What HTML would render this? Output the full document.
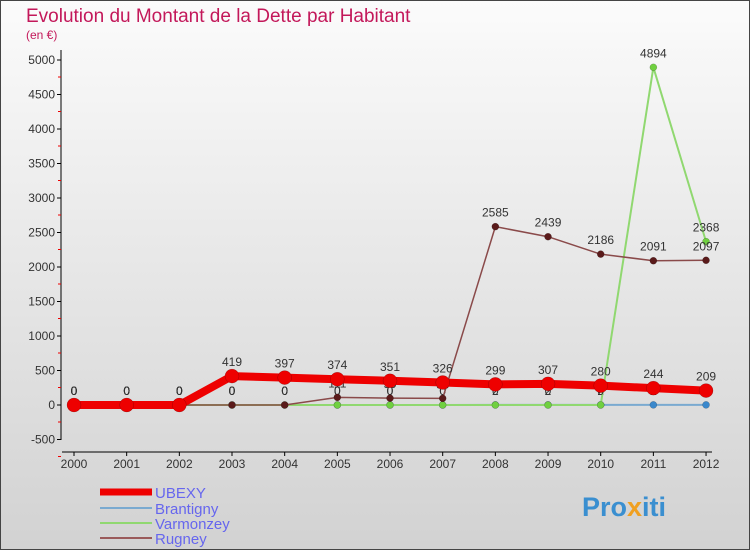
<!DOCTYPE html>
<html><head><meta charset="utf-8"><style>
body{margin:0;width:750px;height:550px;overflow:hidden;font-family:"Liberation Sans",sans-serif}
#wrap{position:relative;width:748px;height:548px;border:1px solid #444;background:linear-gradient(#fbfbfb,#d2d2d2)}
</style></head><body>
<div id="wrap">
<svg id="chart" width="750" height="550" style="position:absolute;left:-1px;top:-1px">
<text x="26" y="22" font-size="19" fill="#c3185a">Evolution du Montant de la Dette par Habitant</text>
<text x="26" y="39" font-size="12" fill="#c3185a">(en €)</text>
<g id="axes"></g><g id="series"></g>
<g>
<line x1="100" y1="492" x2="152" y2="492" stroke="#e00" stroke-width="7"/>
<text x="155" y="498" font-size="15" fill="#6666ee">UBEXY</text>
<line x1="100" y1="508" x2="152" y2="508" stroke="#7aaad0" stroke-width="2"/>
<text x="155" y="514" font-size="15" fill="#6666ee">Brantigny</text>
<line x1="100" y1="523" x2="152" y2="523" stroke="#90d870" stroke-width="2"/>
<text x="155" y="529" font-size="15" fill="#6666ee">Varmonzey</text>
<line x1="100" y1="538" x2="152" y2="538" stroke="#9a5a5a" stroke-width="2"/>
<text x="155" y="544" font-size="15" fill="#6666ee">Rugney</text>
</g>
<text x="582" y="516" font-size="27" font-weight="bold" fill="#3a8fd0">Pro<tspan fill="#f0a020">x</tspan>iti</text>
</svg></div>
<script>
const years=[2000,2001,2002,2003,2004,2005,2006,2007,2008,2009,2010,2011,2012];
const yTicks=[-500,0,500,1000,1500,2000,2500,3000,3500,4000,4500,5000];
const ubexy=[0,0,0,419,397,374,351,326,299,307,280,244,209];
const brantigny=[0,0,0,0,0,0,0,0,2,2,2,2,2];
const varmonzey=[0,0,0,0,0,0,0,0,0,0,0,4894,2368];
const rugney=[0,0,0,0,0,111,99,96,2585,2439,2186,2091,2097];
const NS="http://www.w3.org/2000/svg";
const xS=i=>74+i*52.67, yS=v=>405-v*0.069;
function mk(t,a,p){const e=document.createElementNS(NS,t);for(const k in a)e.setAttribute(k,a[k]);p.appendChild(e);return e;}
const ax=document.getElementById('axes'),sg=document.getElementById('series');
let yl=mk('line',{x1:61,y1:50,x2:61,y2:440,stroke:'#000'},ax);


let xl=mk('line',{x1:62,y1:452,x2:712,y2:452,stroke:'#000'},ax);


yTicks.forEach(v=>{const y=yS(v);
mk('line',{x1:57,y1:y,x2:61,y2:y,stroke:'#000'},ax);
mk('line',{x1:58,y1:y+17,x2:61,y2:y+17,stroke:'#e00'},ax);
const t=mk('text',{x:55,y:y+4,'font-size':12,'text-anchor':'end',fill:'#333'},ax);t.textContent=v;

});
years.forEach((yr,i)=>{const x=xS(i);mk('line',{x1:x,y1:452,x2:x,y2:456,stroke:'#000'},ax);
const t=mk('text',{x:x,y:468,'font-size':12,'text-anchor':'middle',fill:'#333'},ax);t.textContent=yr;

});
function draw(data,name,color,w,r,fill,lab){
const g=mk('g',{},sg);


mk('polyline',{points:data.map((v,i)=>xS(i)+','+yS(v)).join(' '),fill:'none',stroke:color,'stroke-width':w,'stroke-linejoin':'round'},g);
data.forEach((v,i)=>{const c=mk('circle',{cx:xS(i),cy:yS(v),r:r,fill:fill,stroke:'rgba(0,0,0,0.3)','stroke-width':0.5},g);


if(lab){const t=mk('text',{x:xS(i),y:yS(v)-10,'font-size':12,'text-anchor':'middle',fill:'#333'},g);t.textContent=v;}});}
draw(brantigny,'brantigny','#7aaad0',2,3.5,'#3a88cc',true);
draw(varmonzey,'varmonzey','#90d870',2,3.5,'#70d040',true);
draw(rugney,'rugney','#8a4a4a',1.5,3.5,'#5a1a1a',true);
draw(ubexy,'ubexy','#e00',8,7,'#e00',true);
</script>
</body></html>
